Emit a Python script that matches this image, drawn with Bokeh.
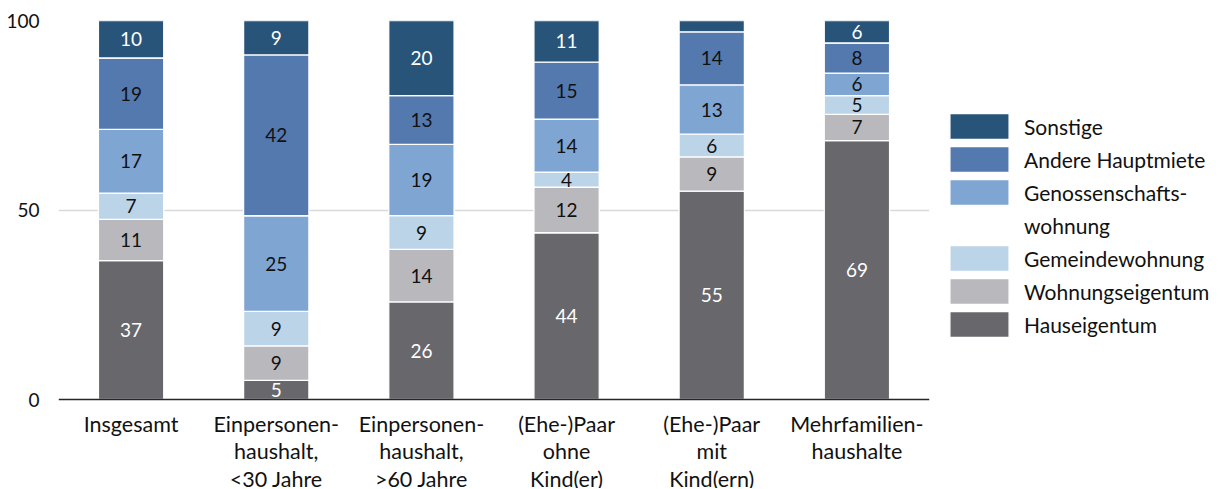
from bokeh.plotting import figure
from bokeh.models import (ColumnDataSource, FactorRange, Range1d, FixedTicker,
                          Legend, LegendItem, Span)
from bokeh.embed import file_html
from bokeh.resources import INLINE
from bokeh.core.properties import value

# ---- data ----
categories = [
    "Insgesamt",
    "Einpersonen-\nhaushalt,\n<30 Jahre",
    "Einpersonen-\nhaushalt,\n>60 Jahre",
    "(Ehe-)Paar\nohne\nKind(er)",
    "(Ehe-)Paar\nmit\nKind(ern)",
    "Mehrfamilien-\nhaushalte",
]
hauseigentum = [37, 5, 26, 44, 55, 69]
wohnungseigentum = [11, 9, 14, 12, 9, 7]
gemeindewohnung = [7, 9, 9, 4, 6, 5]
genossenschaftswohnung = [17, 25, 19, 14, 13, 6]
andere_hauptmiete = [19, 42, 13, 15, 14, 8]
sonstige = [10, 9, 20, 11, 3, 6]

series_names = ["Hauseigentum", "Wohnungseigentum", "Gemeindewohnung",
                "Genossenschafts-\nwohnung", "Andere Hauptmiete", "Sonstige"]
series_values = [hauseigentum, wohnungseigentum, gemeindewohnung,
                 genossenschaftswohnung, andere_hauptmiete, sonstige]
series_colors = ["#68676C", "#B9B9BD", "#BCD4E8", "#7FA5D2", "#5479AE", "#285479"]
label_colors = ["#FFFFFF", "#111111", "#111111", "#111111", "#111111", "#FFFFFF"]
y_ticks = [0, 50, 100]

FONT = "Lato"

# layout parameters (pixels)
FIG_H = 488
TOP = 20
FRAME_H = FIG_H - TOP   # frame reaches the bottom of the canvas
PLOT_H = 379            # pixels between 0 and 100
y_min = -(FRAME_H - PLOT_H) / PLOT_H * 100

p = figure(
    x_range=FactorRange(*categories, range_padding=0),
    y_range=Range1d(y_min, 100),
    frame_width=871, frame_height=FRAME_H,
    min_border_left=58, min_border_right=278, min_border_top=TOP, min_border_bottom=0,
    output_backend="svg", toolbar_location=None,
)
p.outline_line_color = None
p.background_fill_color = "white"
p.border_fill_color = "white"

n = len(categories)
totals = [sum(s[i] for s in series_values) for i in range(n)]
bottoms = [0.0] * n
renderers = {}
for name, vals, col, tcol in zip(series_names, series_values, series_colors, label_colors):
    b = list(bottoms)
    t = [b[i] + vals[i] * 100.0 / totals[i] for i in range(n)]
    src = ColumnDataSource(dict(x=categories, bottom=b, top=t,
                                mid=[(b[i] + t[i]) / 2 for i in range(n)],
                                lab=[str(v) if v >= 4 else "" for v in vals]))
    r = p.vbar(x="x", bottom="bottom", top="top", width=0.45, source=src,
               fill_color=col, line_color="white", line_width=1.3)
    renderers[name] = r
    p.text(x="x", y="mid", text="lab", source=src, text_color=tcol,
           text_font=value(FONT), text_font_size="19px",
           text_align="center", text_baseline="middle")
    bottoms = t

# grid / axes
p.xgrid.grid_line_color = None
p.ygrid.ticker = FixedTicker(ticks=[50, 100])
p.ygrid.grid_line_color = "#D9D9D9"
p.ygrid.grid_line_width = 1.5

p.yaxis.ticker = FixedTicker(ticks=y_ticks)
p.yaxis.axis_line_color = None
p.yaxis.major_tick_line_color = None
p.yaxis.minor_tick_line_color = None
p.yaxis.major_label_standoff = 13
p.yaxis.major_label_text_font = FONT
p.yaxis.major_label_text_font_size = "19px"
p.yaxis.major_label_text_color = "#111111"

p.xaxis.visible = False
p.add_layout(Span(location=0, dimension="width", line_color="#262626", line_width=1.5))

# category labels (multi-line) under the baseline
split = [c.split("\n") for c in categories]
max_lines = max(len(s) for s in split)
for k in range(max_lines):
    p.text(x=categories, y=[0] * n, text=[s[k] if k < len(s) else "" for s in split],
           y_offset=24 + 27.5 * k, text_font=value(FONT), text_font_size="21.5px",
           text_color="#111111", text_align="center", text_baseline="middle")

# legend (top-down order), second line of a wrapped label as its own blank-swatch item
items = []
for name in reversed(series_names):
    lines = name.split("\n")
    items.append(LegendItem(label=lines[0], renderers=[renderers[name]]))
    for ln in lines[1:]:
        blank = p.vbar(x=[], top=[], width=0.45, fill_alpha=0, line_alpha=0)
        items.append(LegendItem(label=ln, renderers=[blank]))

legend = Legend(items=items, location=(13, 148), orientation="vertical",
                glyph_width=74, glyph_height=32, label_standoff=8, spacing=1,
                padding=0, margin=0, border_line_color=None, background_fill_alpha=0,
                label_text_font=FONT, label_text_font_size="21px",
                label_text_color="#111111", label_text_baseline="middle")
p.add_layout(legend, "right")

open("out.html", "w").write(file_html(p, INLINE))
